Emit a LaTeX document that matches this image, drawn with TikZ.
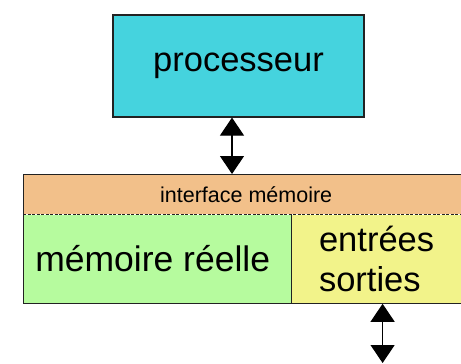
\documentclass[tikz,border=0pt]{standalone}
\usepackage{fontspec}
\setmainfont{Liberation Sans}
\usepackage{tikz}
\usetikzlibrary{arrows.meta, positioning, calc}
\definecolor{proccyan}{HTML}{45D3DE}
\definecolor{ifaceorange}{HTML}{F2C08A}
\definecolor{memgreen}{HTML}{B6FB9E}
\definecolor{ioyellow}{HTML}{F2F38A}
\definecolor{ink}{HTML}{222222}
\tikzset{
    blk/.style={rectangle, inner sep=0pt, align=center, text=black},
    procblk/.style={blk, draw=ink, line width=1.2pt, fill=proccyan,
                    minimum width=251pt, minimum height=102pt, font=\fontsize{34.5}{40}\selectfont},
    ifblk/.style={blk, fill=ifaceorange, minimum width=446pt, minimum height=40pt,
                  font=\fontsize{21.5}{26}\selectfont},
    memblk/.style={blk, fill=memgreen, minimum width=268pt, minimum height=89pt,
                   font=\fontsize{35.5}{40}\selectfont},
    ioblk/.style={blk, fill=ioyellow, align=left, minimum width=178pt, minimum height=89pt,
                  font=\fontsize{34.5}{40}\selectfont},
    dblarr/.style={{Triangle[width=24pt, length=18pt]}-{Triangle[width=24pt, length=18pt]}, line width=1.2pt, black}
}
\begin{document}
\begin{tikzpicture}[x=1pt, y=-1pt]
    \path[use as bounding box, clip] (0,0) rectangle (461,364);
    \node[procblk] (proc) at (238.5,66) {processeur};
    \node[ifblk, anchor=north west] (iface) at (23,174) {interface mémoire};
    \node[memblk, anchor=north west] (mem) at (iface.south west) {mémoire réelle\hspace*{9pt}};
    \node[ioblk, anchor=north west] (io) at (mem.north east) {entrées\hspace*{8pt}\\sorties};
    % block outline, dashed split under the interface
    \draw[ink, line width=1pt] (iface.north west) rectangle (io.south east);
    \draw[ink, line width=0.8pt, dashed, dash pattern=on 3pt off 1.5pt] (iface.south west) -- (iface.south east);
    \draw[ink, line width=1pt] (mem.north east) -- (mem.south east);
    \coordinate (ext) at ([xshift=2pt]io.south |- 0,363);
    \draw[dblarr] ([xshift=-6.5pt]proc.south) -- ([xshift=-6.5pt]proc.south |- iface.north);
    \draw[dblarr] ([xshift=2pt]io.south) -- (ext);
\end{tikzpicture}
\end{document}
